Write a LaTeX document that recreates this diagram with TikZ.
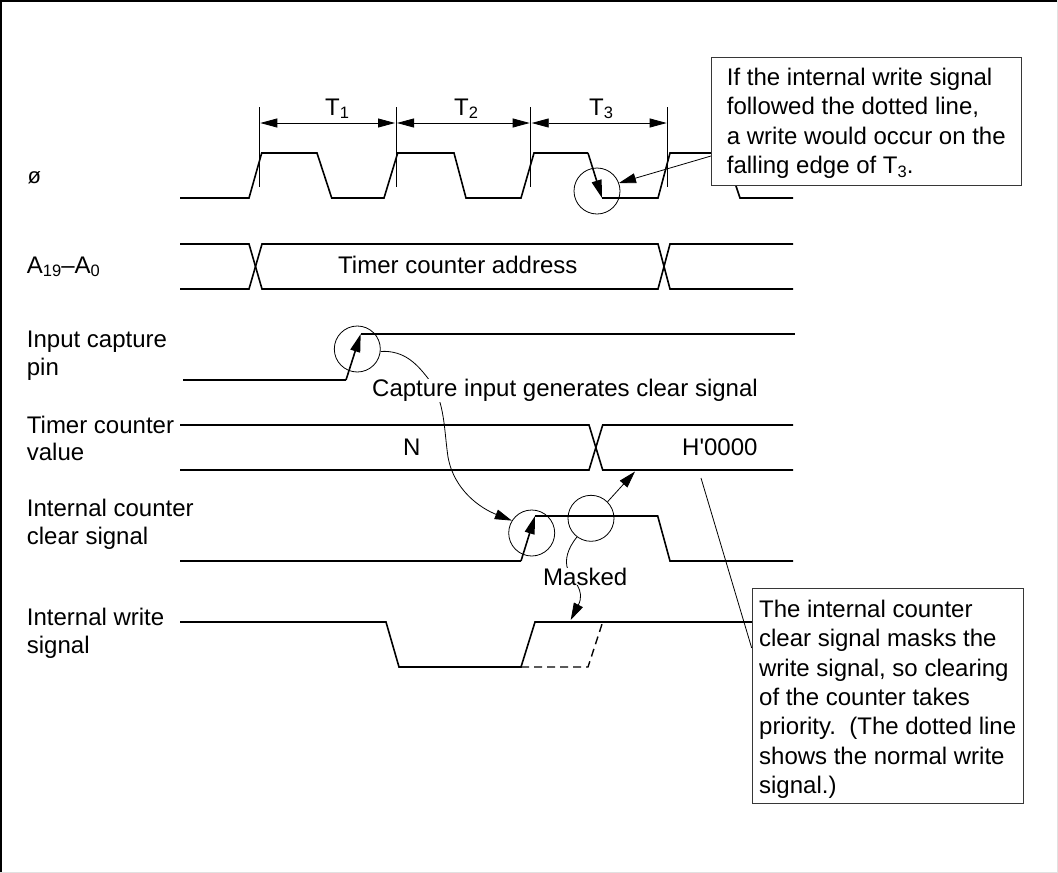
\documentclass[tikz,border=0pt]{standalone}
\usepackage{xcolor}
\usepackage{fontspec}
\setmainfont{Liberation Sans}
\newfontfamily\rawfont{Liberation Sans}
\usetikzlibrary{arrows.meta}
\definecolor{noteEdge}{RGB}{55,55,55}
\definecolor{frameGray}{RGB}{225,225,225}
\newcommand{\lowidx}[1]{\raisebox{-3.6pt}{\fontsize{16.5}{16.5}\selectfont #1}}

\begin{document}
\begin{tikzpicture}[
  x=1pt, y=-1pt,
  font=\fontsize{24}{29.3}\selectfont,
  wave/.style={line width=1.6pt, line join=miter},
  wavetip/.style={wave, -{Triangle[length=18pt, width=10pt]}},
  dashwave/.style={line width=1.4pt, dash pattern=on 8pt off 5pt},
  thin line/.style={line width=0.8pt},
  thintip/.style={line width=0.8pt, -{Triangle[length=17pt, width=10pt]}},
  spantip/.style={line width=0.8pt, {Triangle[length=17pt, width=9pt]}-{Triangle[length=17pt, width=9pt]}, shorten <=1pt, shorten >=1pt},
  ring/.style={draw, circle, line width=0.8pt, minimum size=46pt, inner sep=0pt},
  sigtext/.style={anchor=base west, inner sep=0pt, align=left, font=\fontsize{24}{27.3}\selectfont},
  plain/.style={anchor=base west, inner sep=0pt},
  gaptext/.style={anchor=base west, inner sep=0pt, fill=white},
  note/.style={draw=noteEdge, line width=0.9pt, fill=white, anchor=north west, align=left, inner xsep=0pt}
]
\useasboundingbox (0,0) rectangle (1058,873);
\draw[line width=2pt] (1,873) -- (1,0.5) -- (1058,0.5);
\draw[line width=1.4pt, frameGray] (1057.3,0) -- (1057.3,872.3) -- (0,872.3);

% clock
\draw[wave] (180,198) -- (249,198) -- (261.7,153) -- (317,153) -- (331.7,198) -- (384,198) -- (397.7,153) -- (454,153) -- (466,198) -- (521,198) -- (534,153) -- (588,153);
\draw[wavetip] (588,153) -- (602,198);
\draw[wave] (602,198) -- (658,198) -- (670,153) -- (725,153) -- (740,198) -- (793,198);

% address bus
\draw[wave] (180,244) -- (249,244) -- (262,289) -- (658,289) -- (670,244) -- (793,244);
\draw[wave] (180,289) -- (249,289) -- (262,244) -- (658,244) -- (670,289) -- (793,289);

% capture pin
\draw[wave] (183,380) -- (346,380);
\draw[wavetip] (346,380) -- (360.7,334);
\draw[wave] (360.7,334) -- (795,334);

% counter value
\draw[wave] (180,425) -- (589,425) -- (602.7,470) -- (793,470);
\draw[wave] (180,470) -- (589,470) -- (602.7,425) -- (793,425);

% clear signal
\draw[wave] (180,561) -- (521,561);
\draw[wavetip] (521,561) -- (535,516);
\draw[wave] (535,516) -- (657.7,516) -- (670,561) -- (793,561);

% write signal
\draw[wave] (180,622) -- (386,622) -- (399,667) -- (521,667) -- (535,622) -- (752,622);
\draw[dashwave] (521,667) -- (588,667) -- (602.7,622);

% period marks
\coordinate (mark1) at (259.3,123);
\coordinate (mark2) at (396,123);
\coordinate (mark3) at (530.7,123);
\coordinate (mark4) at (667.7,123);
\foreach \m in {mark1,mark2,mark3,mark4}
  \draw[thin line] (\m) ++(0,-16) -- ++(0,80);
\draw[spantip] (mark1) -- (mark2);
\draw[spantip] (mark2) -- (mark3);
\draw[spantip] (mark3) -- (mark4);
\node[plain] (t1) at (325,115) {T\lowidx{1}};
\node[plain] (t2) at (454,115) {T\lowidx{2}};
\node[plain] (t3) at (589,115) {T\lowidx{3}};

\node[ring] (fallring) at (597,191) {};
\node[ring] (capring) at (357.3,349) {};
\node[ring] (clrring) at (531.7,533) {};
\node[ring] (maskring) at (591,518.3) {};

\coordinate (valend) at (635,471.5);
\coordinate (maskend) at (570.7,620);
\coordinate (valtap) at (701,478);
\coordinate (notetap) at (711,156);
\coordinate (writetap) at (751.7,648);

\draw[thintip] (capring.-6) .. controls (405,350) and (418,365) .. (430,381) .. controls (445,402) and (444,430) .. (448,457) .. controls (454,490) and (480,508) .. (clrring.148);
\draw[thintip] (maskring.45) -- (valend);
\draw[thintip] (maskring.233) .. controls (568,548) and (564,560) .. (568,570) .. controls (572,580) and (586,590) .. (maskend);
\draw[thintip] (notetap) -- (fallring.20);
\draw[thin line] (valtap) -- (writetap);

\node[gaptext] (captext) at (372,396.7) {Capture input generates clear signal};
\node[gaptext] (masktext) at (543,585) {Masked};
\node[plain] (addrtext) at (338,273.3) {Timer counter address};
\node[plain] (ntext) at (403,455.7) {N};
\node[plain] (zerotext) at (682,455.7) {\rawfont H'0000};

\node[plain, font=\fontsize{22}{24}\selectfont] (clk) at (27.5,183) {ø};
\node[plain] (bus) at (26.7,273) {A\lowidx{19}–A\lowidx{0}};
\node[sigtext] (pin) at (26.7,375) {Input capture\\pin};
\node[sigtext] (val) at (26.7,460.7) {Timer counter\\value};
\node[sigtext] (clr) at (26.7,544) {Internal counter\\clear signal};
\node[sigtext] (wrt) at (26.7,653) {Internal write\\signal};

\node[note, minimum width=310.3pt, minimum height=128.3pt] (noteclk) at (710.7,56.7) {\rule{0pt}{21.5pt}If the internal write signal\\followed the dotted line,\\a write would occur on the\\falling edge of T\lowidx{3}.};
\node[note, minimum width=271pt, minimum height=215.3pt] (notewrt) at (751.7,587.7) {\rule{0pt}{24.5pt}The internal counter\\clear signal masks the\\write signal, so clearing\\of the counter takes\\priority.~~(The dotted line\\shows the normal write\\signal.)};
\end{tikzpicture}
\end{document}
